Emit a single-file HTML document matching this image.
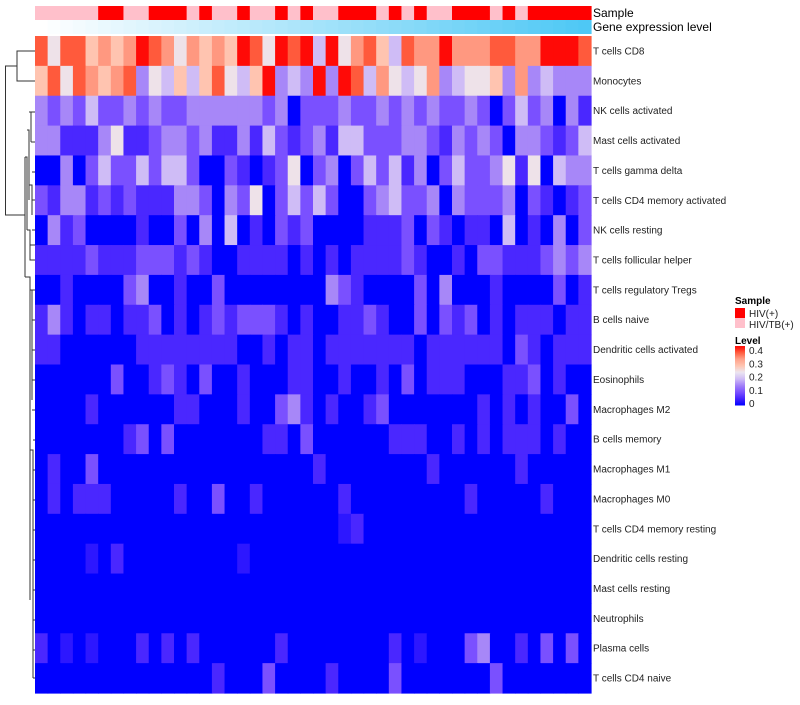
<!DOCTYPE html>
<html><head><meta charset="utf-8"><style>
body{margin:0;background:#fff;width:800px;height:700px;overflow:hidden;font-family:"Liberation Sans",sans-serif}
</style></head><body>
<svg id="chart" width="800" height="700" xmlns="http://www.w3.org/2000/svg" font-family="Liberation Sans, sans-serif">
<g id="dendro" stroke="#333" stroke-width="1" fill="none">
<path d="M35,51H17V81H35"/>
<path d="M17,66H5.5V215H25"/>
<path d="M25,157V277"/>
<path d="M25,157H27V230"/>
<path d="M27,130H29V200"/>
<path d="M29,112H31V142"/>
<path d="M31,112H35M31,142H35"/>
<path d="M29,185H32V215"/>
<path d="M32,172H35M32,200H35M32,230H35"/>
<path d="M27,230H30V260H35M30,245H35"/>
<path d="M25,277H30V600"/>
<path d="M30,290H32V400"/>
<path d="M32,290H35M32,320H35M32,350H35M32,380H35M32,410H35"/>
<path d="M30,450H33V678"/>
<path d="M33,440H35M33,470H35M33,500H35M33,530H35M33,560H35M33,590H35M33,620H35M33,650H35M33,678H35"/>
</g>
<g id="cells"></g>
<g id="annot"></g>
<g id="labels" font-size="10" fill="#222"></g>
<text x="593" y="17" font-size="12" fill="#000">Sample</text>
<text x="593" y="31" font-size="12" fill="#000">Gene expression level</text>
<g font-size="10" fill="#222">
<text x="735" y="304" font-weight="bold" fill="#000">Sample</text>
<rect x="735" y="308" width="10" height="10" fill="#ff0000"/>
<text x="749" y="317">HIV(+)</text>
<rect x="735" y="318" width="10" height="10" fill="#ffc0cb"/>
<text x="749" y="328">HIV/TB(+)</text>
<text x="735" y="344" font-weight="bold" fill="#000">Level</text>
<g id="colorbar"></g>
</g>
</svg>
<script>
const rowNames=["T cells CD8","Monocytes","NK cells activated","Mast cells activated","T cells gamma delta","T cells CD4 memory activated","NK cells resting","T cells follicular helper","T cells regulatory  Tregs","B cells naive","Dendritic cells activated","Eosinophils","Macrophages M2","B cells memory","Macrophages M1","Macrophages M0","T cells CD4 memory resting","Dendritic cells resting","Mast cells resting","Neutrophils","Plasma cells","T cells CD4 naive"];
const sampleGroup="PPPPPRRPPRRRPRPPRPPRPRPPRRRPRPRPPRRRPRPRRRRR".split("");
const exprLevel=[1,2,3,4,5,6,7,8,9,10,11,12,13,14,15,16,17,18,19,20,21,22,23,24,25,26,27,28,29,30,31,32,33,34,35,36,37,38,39,40,41,42,43,44];
const levelTicks=[0,0.1,0.2,0.3,0.4];
const v0=[.36,.23,.36,.36,.27,.32,.27,.32,.40,.36,.32,.23,.32,.27,.32,.27,.40,.36,.23,.40,.36,.40,.18,.40,.23,.32,.36,.27,.18,.36,.32,.32,.40,.32,.32,.32,.36,.36,.32,.32,.40,.40,.40,.36];
const v1=[.27,.36,.23,.36,.32,.27,.32,.36,.14,.23,.18,.27,.18,.27,.36,.23,.18,.27,.40,.14,.18,.14,.40,.14,.40,.36,.18,.32,.23,.18,.23,.32,.14,.18,.23,.23,.27,.14,.32,.14,.18,.14,.14,.14];
const v2=[.14,.09,.14,.09,.18,.09,.09,.14,.09,.14,.09,.09,.14,.14,.14,.14,.14,.14,.09,.14,0,.09,.09,.09,.14,.09,.09,.14,.09,.14,.09,.14,.09,.09,.14,.09,0,.09,.18,.09,.14,0,.14,.05];
const v3=[.14,.14,.05,.05,.05,.14,.23,.05,.05,.09,.14,.14,.09,.14,.05,.05,.14,.05,.18,.09,.05,.09,.14,.05,.18,.18,.09,.09,.09,.14,.14,.09,.05,.14,.09,.14,.09,0,.14,.14,.09,.05,.09,.18];
const v4=[0,0,.14,0,.09,.18,.09,.09,.18,.09,.18,.18,.09,0,0,.09,.05,0,.05,.09,.23,0,.09,.14,0,.09,.18,.09,.18,.05,.14,0,.09,.18,.09,.09,.14,.23,.05,.23,0,.18,.14,.14];
const v5=[.09,.05,.14,.14,.05,.09,.05,.09,.05,.05,.05,.14,.14,.09,0,.14,.09,.23,0,.09,.18,.09,.18,.09,0,0,.09,.14,.18,.09,.09,.14,0,.14,.09,.09,.09,.14,0,.09,.05,0,.05,.09];
const v6=[0,.14,.05,.09,0,0,0,0,.05,0,0,.09,0,.14,0,.18,0,.05,0,.09,.05,.09,0,0,0,0,.05,.05,.05,.09,0,.09,.05,0,.05,.05,0,.18,0,.05,0,.14,0,.09];
const v7=[.05,.05,.05,.05,.09,.05,.05,.05,.09,.09,.09,.05,.09,.05,0,0,.05,.05,.05,.05,0,.05,0,.05,0,.05,.05,.05,.05,.09,.05,0,0,.05,0,.09,.09,.05,.05,.05,.09,.14,.09,.14];
const v8=[0,0,.05,0,0,0,0,.09,.14,0,0,.05,0,0,.09,0,0,0,0,0,0,0,0,.14,.09,.05,0,0,0,0,.09,0,.14,0,0,0,.05,0,0,0,0,.09,0,.05];
const v9=[.05,.14,.05,0,.05,.05,0,.05,.05,.09,0,.05,0,.05,.09,.05,.09,.09,.09,.05,0,.05,0,0,.05,.05,.09,.05,0,0,.09,0,.09,.05,.09,0,.05,0,.05,.05,.05,0,.05,.05];
const v10=[.05,.05,0,0,0,0,0,0,.05,.05,.05,.05,.05,.05,.05,.05,0,0,.05,0,.05,.05,0,.05,.05,.05,.05,.05,.05,.05,0,.05,.05,.05,.05,.05,.05,0,.09,.05,0,.05,.05,.05];
const v11=[0,0,0,0,0,0,.09,0,0,.05,.09,.05,0,.09,0,0,.05,0,0,0,.05,.05,0,0,.05,0,0,.05,0,.09,0,.05,.05,.05,0,0,0,.05,.05,.09,0,.05,0,0];
const v12=[0,0,0,0,.05,0,0,0,0,0,0,.05,.05,0,0,0,.05,0,0,.09,.14,.05,0,.05,0,0,.05,.09,0,0,0,0,0,0,0,.05,0,.05,0,.05,0,0,.09,0];
const v13=[0,0,0,0,0,0,0,.05,.09,0,.09,0,0,0,0,0,0,0,.05,.05,0,.09,0,0,0,0,0,0,.05,.05,.05,0,0,.05,0,.05,0,.05,.05,.05,0,.05,0,0];
const v14=[0,.05,0,0,.09,0,0,0,0,0,0,0,0,0,0,0,0,0,0,0,0,0,.05,0,0,0,0,0,0,0,0,.05,0,0,0,0,0,0,.05,0,0,0,0,0];
const v15=[0,.05,0,.05,.05,.05,0,0,0,0,0,.05,0,0,.09,0,0,.05,0,0,0,0,0,0,.05,0,0,0,0,0,0,0,0,0,.05,0,0,0,0,0,.05,0,0,0];
const v16=[0,0,0,0,0,0,0,0,0,0,0,0,0,0,0,0,0,0,0,0,0,0,0,0,.03,.05,0,0,0,0,0,0,0,0,0,0,0,0,0,0,0,0,0,0];
const v17=[0,0,0,0,.03,0,.05,0,0,0,0,0,0,0,0,0,.03,0,0,0,0,0,0,0,0,0,0,0,0,0,0,0,0,0,0,0,0,0,0,0,0,0,0,0];
const v18=[0,0,0,0,0,0,0,0,0,0,0,0,0,0,0,0,0,0,0,0,0,0,0,0,0,0,0,0,0,0,0,0,0,0,0,0,0,0,0,0,0,0,0,0];
const v19=[0,0,0,0,0,0,0,0,0,0,0,0,0,0,0,0,0,0,0,0,0,0,0,0,0,0,0,0,0,0,0,0,0,0,0,0,0,0,0,0,0,0,0,0];
const v20=[.05,0,.03,0,.03,0,0,0,.05,0,.05,0,.05,0,0,0,0,0,0,.05,0,0,0,0,0,0,0,0,.05,0,.03,0,0,0,.09,.14,0,0,.05,0,.09,0,.09,0];
const v21=[0,0,0,0,0,0,0,0,0,0,0,0,0,0,.05,0,0,0,.09,0,0,0,0,.05,0,0,0,0,.09,0,0,0,0,0,0,0,.09,0,0,0,0,0,0,0];
const values=[v0,v1,v2,v3,v4,v5,v6,v7,v8,v9,v10,v11,v12,v13,v14,v15,v16,v17,v18,v19,v20,v21];

const X0=35,X1=591,Y0=36,Y1=693;
const nCol=sampleGroup.length,nRow=rowNames.length;
const cw=(X1-X0)/nCol,rh=(Y1-Y0)/nRow;
const xPos=i=>X0+i*cw, yPos=r=>Y0+r*rh;
const stops=[[0,[0,0,255]],[.045,[68,34,255]],[.09,[122,80,255]],[.135,[162,128,248]],[.18,[207,188,246]],[.225,[236,230,240]],[.27,[255,196,176]],[.315,[255,160,136]],[.36,[255,90,60]],[.405,[255,0,0]]];
function col(v){
  if(v<=0)return "rgb(0,0,255)";
  for(let i=1;i<stops.length;i++){if(v<=stops[i][0]){const a=stops[i-1],b=stops[i],t=(v-a[0])/(b[0]-a[0]);
    return "rgb("+a[1].map((c,k)=>Math.round(c+(b[1][k]-c)*t)).join(",")+")";}}
  return "rgb(255,0,0)";
}
const NS="http://www.w3.org/2000/svg";
const cells=document.getElementById("cells");
values.forEach((row,r)=>row.forEach((v,c)=>{
  const e=document.createElementNS(NS,"rect");
  e.setAttribute("x",xPos(c));e.setAttribute("y",yPos(r));
  e.setAttribute("width",cw+0.6);e.setAttribute("height",rh+0.6);
  e.setAttribute("fill",col(v));
  
  
  cells.appendChild(e);
}));
const annot=document.getElementById("annot");
const eMin=Math.min(...exprLevel),eMax=Math.max(...exprLevel);
sampleGroup.forEach((g,c)=>{
  const e=document.createElementNS(NS,"rect");
  e.setAttribute("x",xPos(c));e.setAttribute("y",6);e.setAttribute("width",cw+0.6);e.setAttribute("height",14);
  e.setAttribute("fill",g==="R"?"#ff0000":"#ffc0cb");
  
  
  annot.appendChild(e);
  const t=(exprLevel[c]-eMin)/(eMax-eMin);
  const f=document.createElementNS(NS,"rect");
  f.setAttribute("x",xPos(c));f.setAttribute("y",20);f.setAttribute("width",cw+0.6);f.setAttribute("height",14);
  f.setAttribute("fill","rgb("+Math.round(255-(255-78)*t)+","+Math.round(255-(255-200)*t)+","+Math.round(255-(255-245)*t)+")");
  
  
  annot.appendChild(f);
});
const labels=document.getElementById("labels");
rowNames.forEach((n,r)=>{
  const t=document.createElementNS(NS,"text");
  t.setAttribute("x",593);t.setAttribute("y",yPos(r)+rh/2+3.5);
  t.textContent=n;
  
  
  labels.appendChild(t);
});
const cb=document.getElementById("colorbar");
const CB0=405,CB1=346,vmax=levelTicks[levelTicks.length-1];
for(let i=0;i<59;i++){
  const v=vmax*(i+0.5)/59;
  const e=document.createElementNS(NS,"rect");
  e.setAttribute("x",735);e.setAttribute("y",CB0-(i+1)*(CB0-CB1)/59);e.setAttribute("width",10);e.setAttribute("height",(CB0-CB1)/59+0.5);
  e.setAttribute("fill",col(v));
  
  
  cb.appendChild(e);
}
levelTicks.forEach(v=>{
  const y=403-(v/vmax)*53;
  const t=document.createElementNS(NS,"text");
  t.setAttribute("x",749);t.setAttribute("y",y+4);t.textContent=String(v);
  
  
  cb.appendChild(t);
});
</script>
</body></html>
